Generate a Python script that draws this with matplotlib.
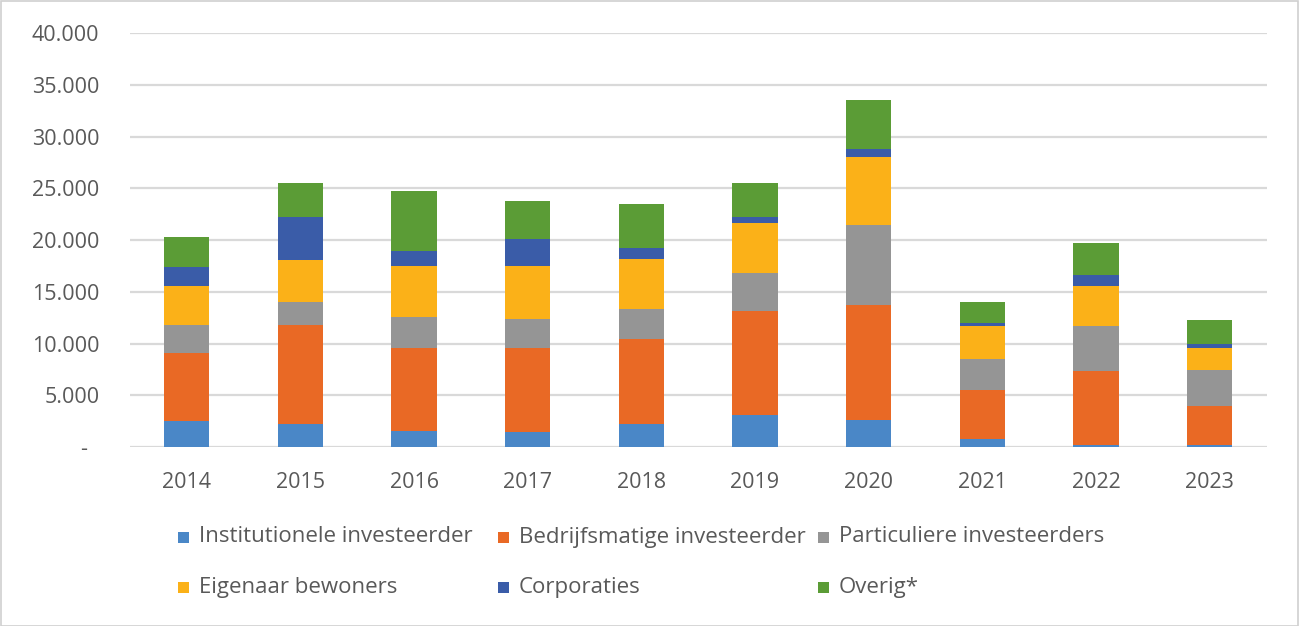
import matplotlib
matplotlib.use('Agg')
import matplotlib.pyplot as plt
from matplotlib.patches import Rectangle
from matplotlib.ticker import FuncFormatter
import numpy as np

plt.rcParams['font.family'] = ['Open Sans', 'DejaVu Sans']

years = ['2014', '2015', '2016', '2017', '2018', '2019', '2020', '2021', '2022', '2023']
series_names = ['Institutionele investeerder', 'Bedrijfsmatige investeerder',
                'Particuliere investeerders', 'Eigenaar bewoners', 'Corporaties', 'Overig*']

institutioneel = [2500, 2250, 1550, 1450, 2250, 3050, 2650, 750, 200, 200]
bedrijfsmatig = [6550, 9500, 8050, 8150, 8150, 10050, 11100, 4800, 7100, 3800]
particulier = [2700, 2300, 2950, 2750, 2950, 3750, 7750, 2950, 4400, 3450]
eigenaar = [3850, 4000, 4900, 5150, 4800, 4800, 6550, 3200, 3900, 2150]
corporaties = [1800, 4150, 1500, 2650, 1050, 550, 800, 250, 1050, 400]
overig = [2900, 3300, 5750, 3650, 4300, 3300, 4700, 2050, 3100, 2250]

colors = ['#4a87c7', '#e96925', '#959595', '#fbb118', '#3a5ca8', '#5b9c36']

data = [institutioneel, bedrijfsmatig, particulier, eigenaar, corporaties, overig]

fig = plt.figure(figsize=(12.99, 6.26), dpi=100)
ax = fig.add_axes([0.1, 0.286, 0.875, 0.661])

x = np.arange(len(years))
bottom = np.zeros(len(years))
for vals, name, c in zip(data, series_names, colors):
    ax.bar(x, vals, 0.4, bottom=bottom, color=c, label=name, zorder=3)
    bottom += np.array(vals)

ax.set_xlim(-0.5, len(years) - 0.5)
ax.set_ylim(0, 40000)
ax.set_yticks(range(0, 40001, 5000))
ax.yaxis.set_major_formatter(FuncFormatter(
    lambda v, p: '-  ' if v == 0 else f'{int(v):,}'.replace(',', '.')))
ax.set_xticks(x)
ax.set_xticklabels(years)
ax.grid(axis='y', color='#d9d9d9', linewidth=1.6, zorder=0)
for s in ax.spines.values():
    s.set_visible(False)
ax.tick_params(axis='both', length=0, labelsize=15.5, colors='#595959')
ax.tick_params(axis='y', pad=22)
ax.tick_params(axis='x', pad=18)

# legend laid out like the Excel one: fixed column widths, two rows
col_x = [178, 498, 818]
row_y = [537, 587]
W, H = 1299.0, 626.0
for i, (name, c) in enumerate(zip(series_names, colors)):
    cx = col_x[i % 3]
    cy = row_y[i // 3]
    fig.patches.append(Rectangle((cx / W, (H - cy - 5.5) / H), 11 / W, 11 / H,
                                 transform=fig.transFigure, facecolor=c, edgecolor='none'))
    fig.text((cx + 21) / W, (H - cy) / H, name, fontsize=16, color='#595959',
             va='center', ha='left')

fig.patches.append(Rectangle((0.5 / W, 0.5 / H), 1 - 1.5 / W, 1 - 1.5 / H,
                             transform=fig.transFigure, facecolor='none',
                             edgecolor='#d0d0d0', linewidth=1.2))

fig.savefig('out.png', dpi=100)
